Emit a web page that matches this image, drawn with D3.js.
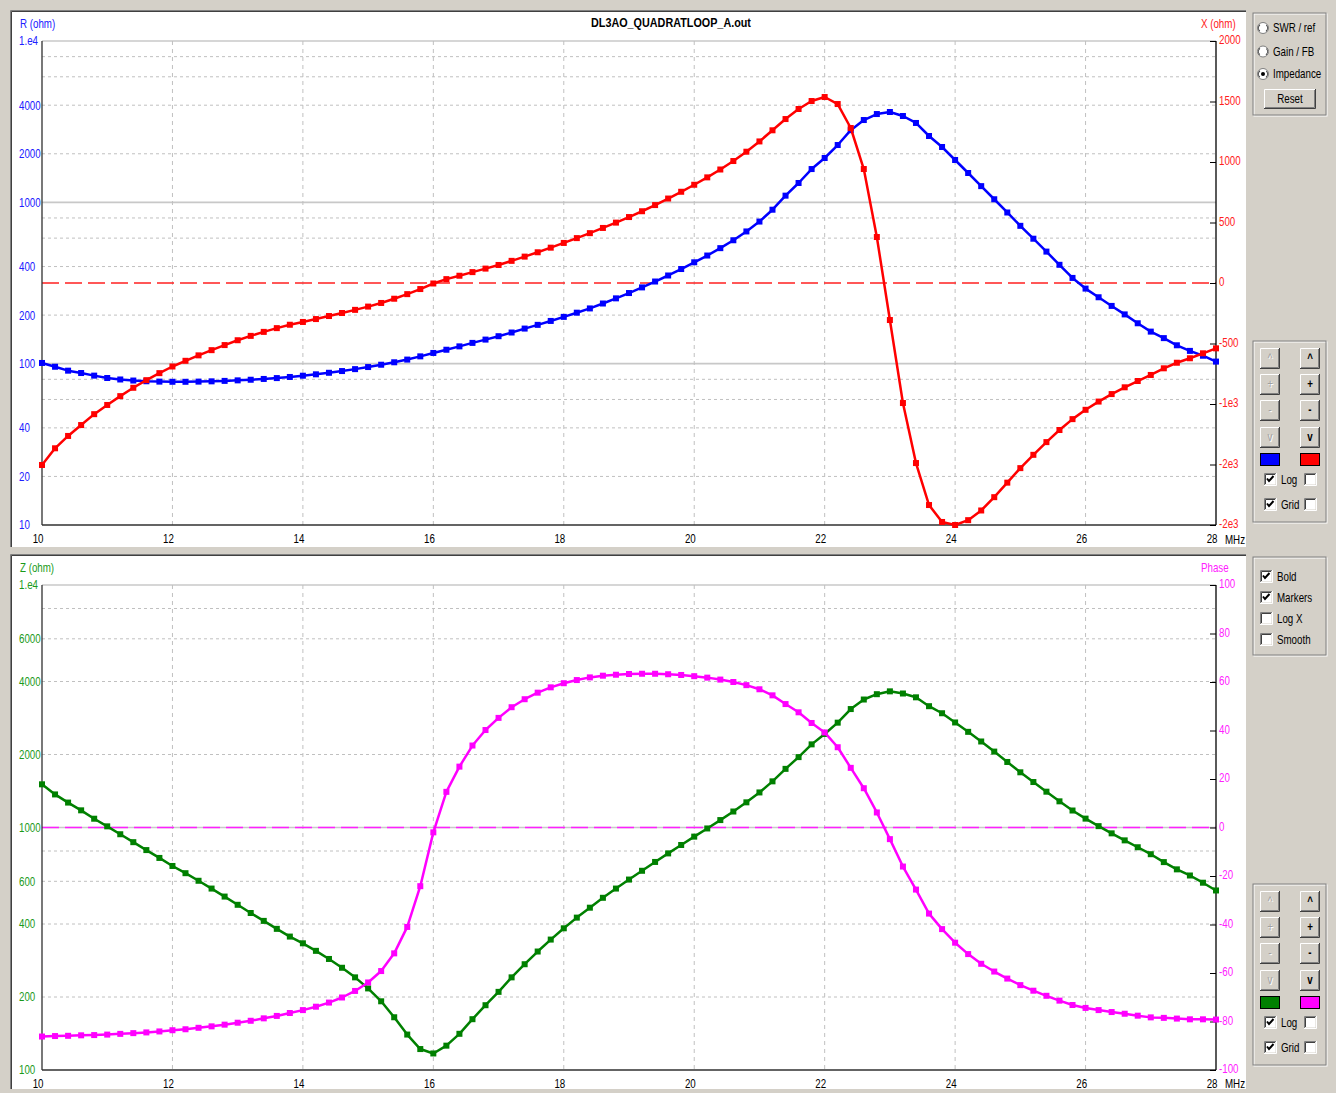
<!DOCTYPE html>
<html>
<head>
<meta charset="utf-8">
<script src="https://cdn.jsdelivr.net/npm/d3@7"></script>
<style>
  body { margin: 0; background: #d4d0c8; }
  svg { display: block; }
  text { font-family: "Liberation Sans", Arial, sans-serif; font-size: 13px; }
</style>
</head>
<body>
<svg id="chart" width="1336" height="1093"></svg>
<script>
// Frequency sweep, MHz
const FREQ = [
  10.0,10.2,10.4,10.6,10.8,11.0,11.2,11.4,11.6,11.8,
  12.0,12.2,12.4,12.6,12.8,13.0,13.2,13.4,13.6,13.8,
  14.0,14.2,14.4,14.6,14.8,15.0,15.2,15.4,15.6,15.8,
  16.0,16.2,16.4,16.6,16.8,17.0,17.2,17.4,17.6,17.8,
  18.0,18.2,18.4,18.6,18.8,19.0,19.2,19.4,19.6,19.8,
  20.0,20.2,20.4,20.6,20.8,21.0,21.2,21.4,21.6,21.8,
  22.0,22.2,22.4,22.6,22.8,23.0,23.2,23.4,23.6,23.8,
  24.0,24.2,24.4,24.6,24.8,25.0,25.2,25.4,25.6,25.8,
  26.0,26.2,26.4,26.6,26.8,27.0,27.2,27.4,27.6,27.8,
  28.0
];
// Resistance R, ohm
const RESISTANCE = [
  101,95.7,90.5,87.5,84.3,81.5,79.8,78.6,77.8,77.4,
  77.2,77.2,77.4,77.7,78.2,78.8,79.5,80.4,81.4,82.7,
  84.2,85.9,87.8,90.0,92.5,95.3,98.5,102,106,111,
  116.5,122,128,134.5,141,148,156,165,174,184,
  195,207,220,236,254,274,297,323,352,386,
  425,468,520,582,660,760,900,1100,1318,1608,
  1883,2266,2800,3237,3526,3630,3428,3104,2577,2203,
  1830,1520,1260,1045,865,715,595,495,410,340,
  292,258,228,202,178,158,144,130,120,112,
  103
];
// Reactance X, ohm
const REACTANCE = [
  -1504,-1366,-1264,-1174,-1084,-1008,-935,-866,-803,-745,
  -690,-643,-598,-555,-513,-473,-437,-404,-373,-345,
  -322,-298,-273,-248,-222,-195,-165,-130,-92,-50,
  -4,32,60,90,119,149,183,218,254,292,
  331,371,412,455,499,545,593,644,698,754,
  812,873,938,1008,1085,1170,1262,1355,1438,1504,
  1537,1479,1281,942,380,-306,-992,-1488,-1835,-1975,
  -2000,-1960,-1880,-1770,-1650,-1530,-1420,-1315,-1215,-1125,
  -1048,-980,-918,-862,-810,-760,-705,-659,-622,-581,
  -540
];
// Impedance magnitude |Z|, ohm
const IMPEDANCE = [
  1507,1369,1267,1177,1087,1011,938,870,807,749,
  694,648,603,560,519,480,444,412,382,355,
  333,310,287,264,241,217,192,165,140,122,
  117,126,141,162,185,210,241,273,308,345,
  384,425,467,513,560,610,663,721,782,847,
  917,991,1073,1164,1270,1395,1550,1745,1951,2202,
  2431,2706,3079,3371,3546,3643,3569,3442,3164,2959,
  2711,2480,2263,2056,1863,1689,1540,1405,1282,1175,
  1088,1013,946,885,829,776,720,672,634,592,
  550
];
// Phase, degrees
const PHASE = [
  -86.2,-86.0,-85.9,-85.7,-85.6,-85.4,-85.1,-84.8,-84.5,-84.1,
  -83.6,-83.2,-82.6,-82.0,-81.3,-80.5,-79.7,-78.7,-77.7,-76.5,
  -75.3,-73.9,-72.2,-70.1,-67.4,-63.9,-59.2,-51.9,-41.0,-24.2,
  -2.0,14.7,25.1,33.8,40.2,45.2,49.6,52.9,55.6,57.8,
  59.5,60.8,61.9,62.6,63.0,63.3,63.4,63.4,63.2,62.9,
  62.4,61.8,61.0,60.0,58.7,57.0,54.5,50.9,47.5,43.1,
  39.2,33.1,24.6,16.2,6.2,-4.8,-16.1,-25.6,-35.5,-41.9,
  -47.5,-52.2,-56.2,-59.4,-62.3,-65.0,-67.3,-69.4,-71.4,-73.2,
  -74.4,-75.3,-76.1,-76.8,-77.6,-78.3,-78.5,-78.8,-79.1,-79.1,
  -79.2
];

// Axis ticks and labels
const FREQ_TICKS = [10,12,14,16,18,20,22,24,26,28];
const FREQ_GRID = [12,14,16,18,20,22,24,26];
const R_TICKS = [10000,4000,2000,1000,400,200,100,40,20,10];
const R_TICK_LABELS = ["1.e4","4000","2000","1000","400","200","100","40","20","10"];
const X_TICKS = [2000,1500,1000,500,0,-500,-1000,-1500,-2000];
const X_TICK_LABELS = ["2000","1500","1000","500","0","-500","-1e3","-2e3","-2e3"];
const Z_TICKS = [10000,6000,4000,2000,1000,600,400,200,100];
const Z_TICK_LABELS = ["1.e4","6000","4000","2000","1000","600","400","200","100"];
const PHASE_TICKS = [100,80,60,40,20,0,-20,-40,-60,-80,-100];
const PHASE_TICK_LABELS = ["100","80","60","40","20","0","-20","-40","-60","-80","-100"];
const R_GRID_MINOR = [8000,6000,4000,2000,800,600,400,200,80,60,40,20];
const R_GRID_MAJOR = [10000,1000,100];
const Z_GRID_MINOR = [8000,6000,4000,2000,800,600,400,200];
const Z_GRID_MAJOR = [10000,1000];

const COLORS = { r: "#0000ff", x: "#ff0000", z: "#008000", p: "#ff00ff",
                 rText: "#2020ff", xText: "#ff2020", zText: "#1a9a1a", pText: "#ff20ff" };

const svg = d3.select("#chart");
const X0 = 42, X1 = 1216;
const x = d3.scaleLinear().domain([10, 28]).range([X0, X1]);

// Condensed look for the UI font: squeeze glyphs horizontally around their anchor
const NARROW = 0.75;
function narrow(sel, k = NARROW) {
  sel.each(function () {
    const t = d3.select(this);
    const xv = +t.attr("x") || 0;
    t.attr("x", xv / k).attr("transform", `scale(${k},1)`);
  });
  return sel;
}
function label(px, py, str, fill, opts = {}) {
  const t = svg.append("text").attr("x", px).attr("y", py).attr("fill", fill).text(str);
  if (opts.anchor) t.attr("text-anchor", opts.anchor);
  if (opts.weight) t.attr("font-weight", opts.weight);
  if (opts.size) t.style("font-size", opts.size);
  return narrow(t, opts.k || NARROW);
}

// ---- window chrome -------------------------------------------------------
function sunkenPanel(x0, y0, x1, y1) {
  svg.append("rect").attr("x", x0).attr("y", y0).attr("width", x1 - x0).attr("height", y1 - y0).attr("fill", "#fff");
  svg.append("path").attr("d", `M${x0-1.5},${y1} V${y0-1.5} H${x1}`).attr("fill", "none").attr("stroke", "#808080");
  svg.append("path").attr("d", `M${x0-0.5},${y1} V${y0-0.5} H${x1}`).attr("fill", "none").attr("stroke", "#404040");
}
sunkenPanel(12, 12, 1246, 547);
sunkenPanel(12, 556, 1246, 1089);

function groupBox(x0, y0, x1, y1) {
  svg.append("rect").attr("x", x0 + 1).attr("y", y0 + 1).attr("width", x1 - x0).attr("height", y1 - y0)
    .attr("fill", "none").attr("stroke", "#ffffff");
  svg.append("rect").attr("x", x0).attr("y", y0).attr("width", x1 - x0).attr("height", y1 - y0)
    .attr("fill", "none").attr("stroke", "#808080");
}
function button(x0, y0, w, h, text, enabled, weight) {
  svg.append("rect").attr("x", x0).attr("y", y0).attr("width", w).attr("height", h).attr("fill", "#d4d0c8");
  svg.append("path").attr("d", `M${x0+0.5},${y0+h} V${y0+0.5} H${x0+w}`).attr("fill", "none").attr("stroke", "#ffffff");
  svg.append("path").attr("d", `M${x0+1},${y0+h-1.5} H${x0+w-1.5} V${y0+1}`).attr("fill", "none").attr("stroke", "#808080");
  svg.append("path").attr("d", `M${x0},${y0+h-0.5} H${x0+w-0.5} V${y0}`).attr("fill", "none").attr("stroke", "#404040");
  if (!enabled) label(x0 + w / 2 + 1, y0 + h / 2 + 5, text, "#ffffff", { anchor: "middle" });
  label(x0 + w / 2, y0 + h / 2 + 4, text, enabled ? "#000" : "#a0a0a0", { anchor: "middle", weight: weight });
}
function checkbox(x0, y0, checked, text) {
  svg.append("rect").attr("x", x0 + 0.5).attr("y", y0 + 0.5).attr("width", 11).attr("height", 11).attr("fill", "#fff");
  svg.append("path").attr("d", `M${x0+0.5},${y0+12} V${y0+0.5} H${x0+12}`).attr("fill", "none").attr("stroke", "#808080");
  svg.append("path").attr("d", `M${x0+1.5},${y0+11} V${y0+1.5} H${x0+11}`).attr("fill", "none").attr("stroke", "#404040");
  svg.append("path").attr("d", `M${x0},${y0+12.5} H${x0+12.5} V${y0}`).attr("fill", "none").attr("stroke", "#ffffff");
  if (checked) {
    svg.append("path").attr("d", `M${x0+3},${y0+5.5} L${x0+5},${y0+8} L${x0+9.5},${y0+3}`)
      .attr("fill", "none").attr("stroke", "#000").attr("stroke-width", 2);
  }
  if (text) label(x0 + 17, y0 + 11, text, "#000");
}
function radio(cx, cy, checked, text) {
  svg.append("circle").attr("cx", cx).attr("cy", cy).attr("r", 5.5).attr("fill", "#fff").attr("stroke", "#808080");
  svg.append("circle").attr("cx", cx).attr("cy", cy).attr("r", 4.5).attr("fill", "none").attr("stroke", "#404040")
    .attr("stroke-dasharray", "7,7").attr("transform", `rotate(135,${cx},${cy})`);
  if (checked) svg.append("circle").attr("cx", cx).attr("cy", cy).attr("r", 2).attr("fill", "#000");
  label(cx + 10, cy + 4.5, text, "#000");
}

groupBox(1253, 13, 1326, 115);
radio(1263, 28, false, "SWR / ref");
radio(1263, 51.5, false, "Gain / FB");
radio(1263, 74, true, "Impedance");
button(1264, 89, 52, 20, "Reset", true, "normal");

function scaleControls(top, c1, c2) {
  groupBox(1253, top, 1326, top + 181);
  [["^", 7], ["+", 33], ["-", 59], ["v", 86]].forEach(([lab, dy]) => {
    button(1260, top + dy, 20, 21, lab, false, "normal");
    button(1300, top + dy, 20, 21, lab, true, "bold");
  });
  svg.append("rect").attr("x", 1260.5).attr("y", top + 112.5).attr("width", 19).attr("height", 12).attr("fill", c1).attr("stroke", "#000");
  svg.append("rect").attr("x", 1300.5).attr("y", top + 112.5).attr("width", 19).attr("height", 12).attr("fill", c2).attr("stroke", "#000");
  checkbox(1264, top + 132, true, "Log");
  checkbox(1304, top + 132, false, null);
  checkbox(1264, top + 157, true, "Grid");
  checkbox(1304, top + 157, false, null);
}
scaleControls(341, COLORS.r, COLORS.x);
scaleControls(884, COLORS.z, COLORS.p);

groupBox(1253, 557, 1326, 655);
checkbox(1260, 570, true, "Bold");
checkbox(1260, 591, true, "Markers");
checkbox(1260, 612, false, "Log X");
checkbox(1260, 633, false, "Smooth");

// ---- chart panels ------------------------------------------------------
function drawPanel(cfg) {
  const { top, bottom, yL, yR, leftTicks, leftLabels, rightTicks, rightLabels,
          gridMinor, gridMajor, zeroValue, series } = cfg;
  const g = svg.append("g");

  // horizontal grid
  g.selectAll(null).data(gridMinor).enter().append("line")
    .attr("x1", X0).attr("x2", X1).attr("y1", d => yL(d)).attr("y2", d => yL(d))
    .attr("stroke", "#c0c0c0").attr("stroke-dasharray", "3,3");
  g.selectAll(null).data(gridMajor).enter().append("line")
    .attr("x1", X0).attr("x2", X1).attr("y1", d => yL(d)).attr("y2", d => yL(d))
    .attr("stroke", "#c8c8c8").attr("stroke-width", 1.6);
  // vertical grid
  g.selectAll(null).data(FREQ_GRID).enter().append("line")
    .attr("x1", d => x(d)).attr("x2", d => x(d)).attr("y1", top).attr("y2", bottom)
    .attr("stroke", "#c0c0c0").attr("stroke-dasharray", "4,4");

  // zero line of the right-hand quantity
  g.append("line").attr("x1", X0).attr("x2", X1).attr("y1", yR(zeroValue)).attr("y2", yR(zeroValue))
    .attr("stroke", cfg.rightColor).attr("stroke-width", 1.4).attr("stroke-dasharray", "17,6");

  // frame
  g.append("line").attr("x1", X0).attr("x2", X0).attr("y1", top).attr("y2", bottom).attr("stroke", "#303030").attr("stroke-width", 1.3);
  g.append("line").attr("x1", X0).attr("x2", X1).attr("y1", bottom).attr("y2", bottom).attr("stroke", "#303030").attr("stroke-width", 1.3);
  g.append("line").attr("x1", X1).attr("x2", X1).attr("y1", top).attr("y2", bottom).attr("stroke", "#000").attr("stroke-width", 1.3);

  // left axis (labels only, left-aligned in the margin)
  const la = g.append("g").attr("transform", `translate(${X0},0)`)
    .call(d3.axisLeft(yL).tickValues(leftTicks).tickSize(0).tickFormat((d, i) => leftLabels[i]));
  la.select(".domain").remove();
  la.attr("font-family", null).attr("font-size", null);
  la.selectAll("text").attr("x", -23).attr("text-anchor", "start").attr("dy", "0.3em")
    .attr("fill", cfg.leftColor);
  narrow(la.selectAll("text"));

  // right axis with inward ticks
  const ra = g.append("g").attr("transform", `translate(${X1},0)`)
    .call(d3.axisRight(yR).tickValues(rightTicks).tickSizeInner(-6).tickSizeOuter(0).tickPadding(3)
      .tickFormat((d, i) => rightLabels[i]));
  ra.select(".domain").remove();
  ra.attr("font-family", null).attr("font-size", null);
  ra.selectAll("line").attr("stroke", "#000");
  ra.selectAll("text").attr("dy", "0.2em").attr("fill", cfg.rightColor);
  narrow(ra.selectAll("text"));

  // frequency axis
  const fa = g.append("g").attr("transform", `translate(0,${bottom})`)
    .call(d3.axisBottom(x).tickValues(FREQ_TICKS).tickSize(0).tickFormat(d3.format("d")));
  fa.select(".domain").remove();
  fa.attr("font-family", null).attr("font-size", null);
  fa.selectAll("text").attr("x", 1).attr("y", 18.5).attr("dy", 0).attr("text-anchor", "end").attr("fill", "#000");
  narrow(fa.selectAll("text"));
  label(1225, bottom + 18.5, "MHz", "#000");

  // axis titles
  label(20, top - 13, cfg.leftTitle, cfg.leftColor);
  label(1201, top - 13, cfg.rightTitle, cfg.rightColor);

  // curves with square markers
  series.forEach(s => {
    const pts = FREQ.map((f, i) => [x(f), s.scale(s.values[i])]);
    g.append("path").attr("d", d3.line()(pts)).attr("fill", "none")
      .attr("stroke", s.color).attr("stroke-width", 2.5).attr("stroke-linejoin", "round");
    g.selectAll(null).data(pts).enter().append("rect")
      .attr("x", d => d[0] - 3).attr("y", d => d[1] - 3).attr("width", 6).attr("height", 6)
      .attr("fill", s.color);
  });
}

const yRes = d3.scaleLog().domain([10, 1e4]).range([525, 41]);
const yReact = d3.scaleLinear().domain([-2000, 2000]).range([525, 41]);
const yImp = d3.scaleLog().domain([100, 1e4]).range([1070, 585]);
const yPh = d3.scaleLinear().domain([-100, 100]).range([1070, 585]);

drawPanel({
  top: 41, bottom: 525, yL: yRes, yR: yReact,
  leftTicks: R_TICKS, leftLabels: R_TICK_LABELS, rightTicks: X_TICKS, rightLabels: X_TICK_LABELS,
  gridMinor: R_GRID_MINOR, gridMajor: R_GRID_MAJOR, zeroValue: 0,
  leftColor: COLORS.rText, rightColor: COLORS.xText, leftTitle: "R (ohm)", rightTitle: "X (ohm)",
  series: [
    { values: RESISTANCE, scale: yRes, color: COLORS.r },
    { values: REACTANCE, scale: yReact, color: COLORS.x }
  ]
});
drawPanel({
  top: 585, bottom: 1070, yL: yImp, yR: yPh,
  leftTicks: Z_TICKS, leftLabels: Z_TICK_LABELS, rightTicks: PHASE_TICKS, rightLabels: PHASE_TICK_LABELS,
  gridMinor: Z_GRID_MINOR, gridMajor: Z_GRID_MAJOR, zeroValue: 0,
  leftColor: COLORS.zText, rightColor: COLORS.pText, leftTitle: "Z (ohm)", rightTitle: "Phase",
  series: [
    { values: IMPEDANCE, scale: yImp, color: COLORS.z },
    { values: PHASE, scale: yPh, color: COLORS.p }
  ]
});

// file title
label(671, 27, "DL3AO_QUADRATLOOP_A.out", "#000", { anchor: "middle", weight: "bold", size: "13.5px", k: 0.8 });
</script>
</body>
</html>
